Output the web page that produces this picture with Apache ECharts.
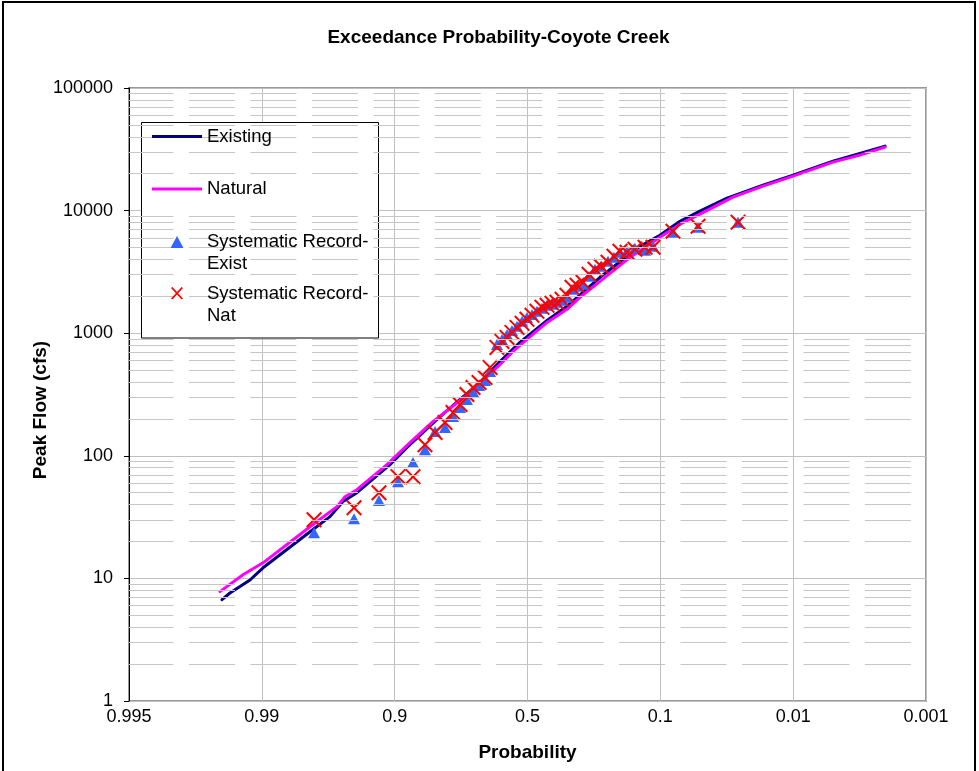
<!DOCTYPE html>
<html>
<head>
<meta charset="utf-8">
<script src="https://cdn.jsdelivr.net/npm/echarts@6/dist/echarts.min.js"></script>
<style>
  html, body { margin: 0; padding: 0; background: #fff; }
  #chart { width: 979px; height: 771px; }
</style>
</head>
<body>
<div id="chart"></div>
<script>
// Probability axis: standard normal variate, labelled with exceedance probabilities
const probTicks = ['0.995', '0.99', '0.9', '0.5', '0.1', '0.01', '0.001'];

// Fitted frequency curve, existing conditions
const existingZ = [-2.300, -2.240, -2.089, -1.991, -1.637, -1.487, -1.389, -1.284, -1.035, -0.907,
  -0.681, -0.508, -0.358, -0.207, -0.057, 0.147, 0.297, 0.546, 0.847, 0.997,
  1.148, 1.298, 1.502, 1.773, 1.999, 2.300, 2.692];
const existingFlow = [6.7, 7.6, 9.7, 12.2, 24, 31.9, 42.3, 50, 84.8, 117,
  198, 288, 396, 588, 841, 1272, 1656, 2857, 5119, 6295,
  8192, 9887, 12630, 16130, 19460, 25330, 33580];

// Fitted frequency curve, natural conditions
const naturalZ = [-2.315, -2.142, -1.991, -1.637, -1.434, -1.374, -1.284, -1.058, -0.885, -0.712,
  -0.546, -0.380, -0.207, -0.109, -0.004, 0.147, 0.297, 0.395, 0.546, 0.772,
  0.997, 1.148, 1.298, 1.547, 1.773, 1.999, 2.300, 2.503, 2.692];
const naturalFlow = [7.8, 10.7, 13.4, 26.4, 38.5, 46.4, 52.9, 84.8, 128, 190,
  262, 368, 556, 710, 890, 1225, 1565, 1961, 2650, 4163,
  6063, 7743, 9346, 12870, 15820, 19100, 24860, 28360, 32960];

// Systematic record: plotting positions shared by both record sets
const recordZ = [-1.607, -1.306, -1.118, -0.975, -0.862, -0.772, -0.696, -0.621, -0.561, -0.508,
  -0.456, -0.410, -0.365, -0.320, -0.282, -0.230, -0.192, -0.154, -0.117, -0.079,
  -0.041, -0.004, 0.034, 0.071, 0.109, 0.147, 0.184, 0.222, 0.260, 0.297,
  0.335, 0.373, 0.418, 0.463, 0.508, 0.553, 0.606, 0.651, 0.696, 0.749,
  0.809, 0.885, 0.945, 1.095, 1.284, 1.585];
const recordExist = [23.6, 30.7, 43.1, 61.5, 88.0, 112, 158, 170, 209, 248,
  288, 335, 375, 412, 487, 810, 890, 978, 1054, 1137,
  1249, 1346, 1424, 1507, 1595, 1687, 1719, 1785, 1854, 1961,
  2279, 2412, 2504, 2911, 3321, 3513, 3860, 4163, 4573, 4660,
  4930, 4750, 5119, 6660, 7318, 8038];
const recordNat = [30.1, 37.7, 50.0, 67.6, 67.6, 123, 155, 187, 225, 262,
  316, 361, 396, 435, 526, 766, 857, 924, 1015, 1115,
  1203, 1297, 1398, 1507, 1625, 1687, 1752, 1785, 1889, 2036,
  2367, 2458, 2600, 3023, 3321, 3513, 3788, 4242, 4660, 4573,
  4838, 5023, 5023, 6786, 7456, 8038];

// Decades of the flow axis, used for the 2..9 minor grid lines
const flowDecades = [1, 10, 100, 1000, 10000];

const FONT = '"Liberation Sans", Arial, Helvetica, sans-serif';
// Marker shapes. The legend variants carry zero-area corner points so the
// icon box stays 50 x 13 and the glyph sits in its middle.
const X_MARK = 'path://M0,9L9,0L100,91L91,100Z M91,0L100,9L9,100L0,91Z';
const LEGEND_LINE = 'path://M0,0L50,0L50,3L0,3Z';
const LEGEND_TRIANGLE = 'path://M0,0L0,0Z M50,13L50,13Z M25,0.5L31.5,12.5L18.5,12.5Z';
const LEGEND_X = 'path://M0,0L0,0Z M50,13L50,13Z'
  + ' M19,1L20.4,0L31,11.6L29.6,12.6Z M29.6,0L31,1L20.4,12.6L19,11.6Z';

const zip = (xs, ys) => xs.map((x, i) => [x, ys[i]]);

const minorLines = [];
flowDecades.forEach(d => {
  for (let k = 2; k <= 9; k++) minorLines.push({ yAxis: d * k });
});

// Two-line legend names, with the first visible line level with the icon
const twoLineName = n => '\n' + n.replace('Record-', 'Record-\n');

const chart = echarts.init(document.getElementById('chart'), null, { renderer: 'canvas' });

const legendBase = {
  orient: 'vertical',
  left: 152,
  padding: 0,
  itemWidth: 50,
  itemGap: 0,
  selectedMode: false,
  z: 6,
  textStyle: { fontSize: 18.5, color: '#000', fontFamily: FONT, lineHeight: 22 }
};

chart.setOption({
  animation: false,
  backgroundColor: '#fff',
  textStyle: { fontFamily: FONT },
  grid: {
    left: 129, right: 53, top: 88, bottom: 70,
    show: true, borderColor: '#999', borderWidth: 2, backgroundColor: 'transparent'
  },
  xAxis: {
    type: 'value',
    min: -3, max: 3, interval: 1,
    name: 'Probability',
    nameLocation: 'middle',
    nameGap: 42,
    nameTextStyle: { fontSize: 19, fontWeight: 'bold', color: '#000', fontFamily: FONT },
    axisLine: { show: false },
    axisTick: { show: false },
    axisLabel: {
      fontSize: 18, color: '#000', margin: 7, fontFamily: FONT,
      formatter: v => probTicks[Math.round(v + 3)]
    },
    splitLine: { show: true, lineStyle: { color: '#c0c0c0', width: 1 } }
  },
  yAxis: {
    type: 'log', logBase: 10,
    min: 1, max: 100000,
    axisLine: { show: true, onZero: false, lineStyle: { color: '#000', width: 1 } },
    axisTick: { show: true, length: 5, lineStyle: { color: '#000' } },
    axisLabel: {
      fontSize: 18, color: '#000', margin: 16, fontFamily: FONT,
      formatter: v => String(Math.round(v))
    },
    splitLine: { show: true, lineStyle: { color: '#c0c0c0', width: 1 } }
  },
  legend: [
    Object.assign({}, legendBase, {
      top: 125.5, itemHeight: 14, icon: LEGEND_LINE, data: ['Existing']
    }),
    Object.assign({}, legendBase, {
      top: 178, itemHeight: 14, icon: LEGEND_LINE, data: ['Natural']
    }),
    Object.assign({}, legendBase, {
      top: 209, itemHeight: 13, icon: LEGEND_TRIANGLE, data: ['Systematic Record-Exist'],
      formatter: twoLineName
    }),
    Object.assign({}, legendBase, {
      top: 260.5, itemHeight: 13, icon: LEGEND_X, data: ['Systematic Record-Nat'],
      formatter: twoLineName
    })
  ],
  graphic: [
    {
      type: 'rect', silent: true, z: 0,
      shape: { x: 3, y: 2, width: 972, height: 800 },
      style: { fill: 'none', stroke: '#000', lineWidth: 2 }
    },
    {
      type: 'rect', silent: true, z: 5,
      shape: { x: 141.5, y: 122.5, width: 237, height: 215.5 },
      style: { fill: '#fff', stroke: '#000', lineWidth: 1 }
    },
    {
      type: 'text', silent: true, z: 5,
      x: 498.5, y: 38,
      style: {
        text: 'Exceedance Probability-Coyote Creek',
        font: 'bold 19px ' + FONT, fill: '#000',
        textAlign: 'center', textVerticalAlign: 'middle'
      }
    },
    {
      // flow axis title, reading upwards
      type: 'text', silent: true, z: 5,
      x: 41, y: 410, rotation: Math.PI / 2,
      style: {
        text: 'Peak Flow (cfs)',
        font: 'bold 19px ' + FONT, fill: '#000',
        textAlign: 'center', textVerticalAlign: 'middle'
      }
    }
  ],
  series: [
    {
      name: 'minor grid',
      type: 'line',
      data: [],
      z: 1,
      silent: true,
      markLine: {
        silent: true,
        symbol: ['none', 'none'],
        label: { show: false },
        emphasis: { disabled: true },
        lineStyle: { color: '#c6c6c6', width: 1, type: [46, 15.45], dashOffset: 1.5 },
        data: minorLines
      }
    },
    {
      name: 'Existing',
      type: 'line',
      data: zip(existingZ, existingFlow),
      symbol: 'none',
      z: 3,
      color: '#000080',
      lineStyle: { color: '#000080', width: 3, cap: 'round', join: 'round' }
    },
    {
      name: 'Natural',
      type: 'line',
      data: zip(naturalZ, naturalFlow),
      symbol: 'none',
      z: 3,
      color: '#ff00ff',
      lineStyle: { color: '#ff00ff', width: 3, cap: 'round', join: 'round' }
    },
    {
      name: 'Systematic Record-Exist',
      type: 'scatter',
      data: zip(recordZ, recordExist),
      symbol: 'triangle',
      symbolSize: [12, 11],
      z: 4,
      itemStyle: { color: '#3366ff', opacity: 1 }
    },
    {
      name: 'Systematic Record-Nat',
      type: 'scatter',
      data: zip(recordZ, recordNat),
      symbol: X_MARK,
      symbolSize: 16,
      z: 4,
      itemStyle: { color: '#ff0000', opacity: 1 }
    }
  ]
});
</script>
</body>
</html>
